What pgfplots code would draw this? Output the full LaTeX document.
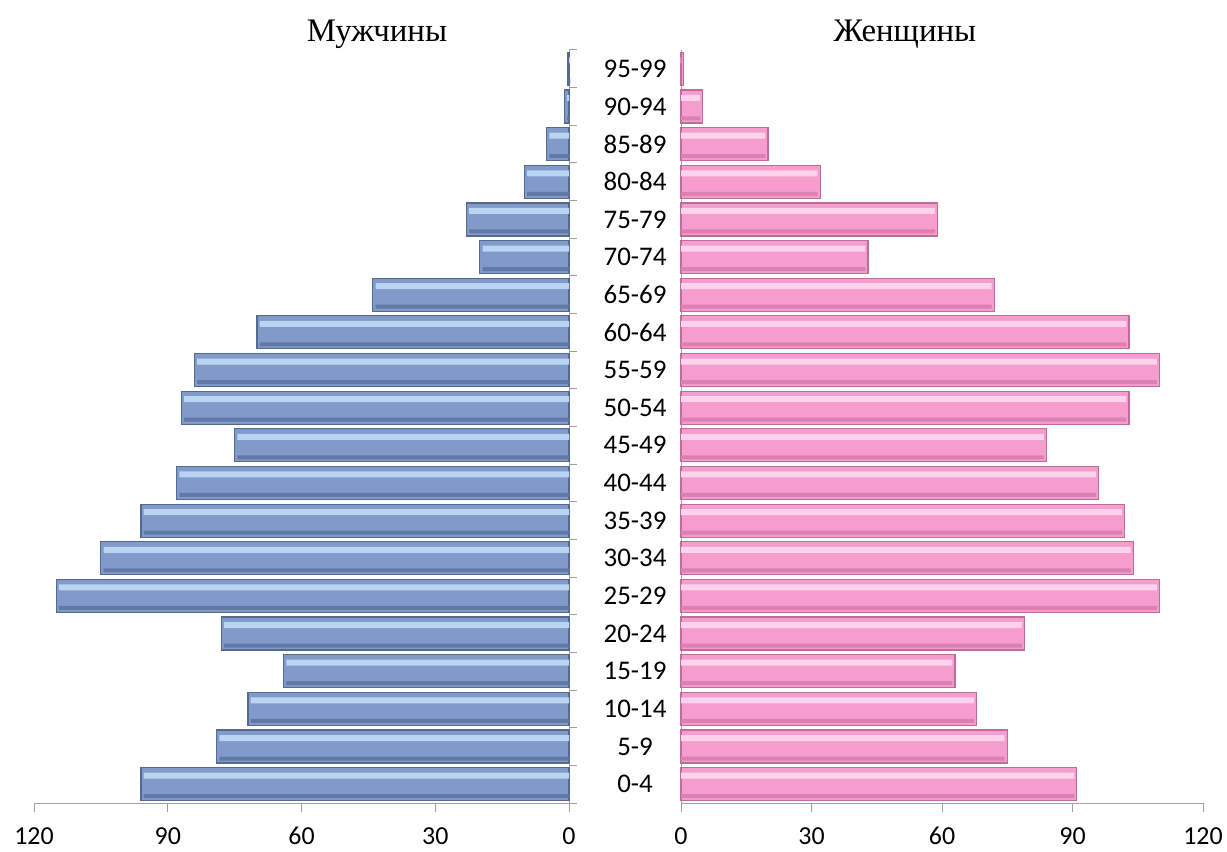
\documentclass[border=0pt]{standalone}
\usepackage{pgfplots}
\pgfplotsset{compat=1.18}
\usepackage{pgfplotstable}
\usepackage{fontspec}
\setmainfont{Carlito}
\newfontfamily\titlefont{Liberation Serif}

\definecolor{blueEdge}{HTML}{56698F}
\definecolor{blueTop}{HTML}{BAD5F2}
\definecolor{blueMid}{HTML}{809ACA}
\definecolor{blueBot}{HTML}{6279A6}
\definecolor{pinkEdge}{HTML}{C06C9A}
\definecolor{pinkTop}{HTML}{FDD2EC}
\definecolor{pinkMid}{HTML}{F59DCC}
\definecolor{pinkBot}{HTML}{DC80B2}
\definecolor{axisgray}{HTML}{A0A0A0}

\pgfplotstableread{
age men women
0-4 96 91
5-9 79 75
10-14 72 68
15-19 64 63
20-24 78 79
25-29 115 110
30-34 105 104
35-39 96 102
40-44 88 96
45-49 75 84
50-54 87 103
55-59 84 110
60-64 70 103
65-69 44 72
70-74 20 43
75-79 23 59
80-84 10 32
85-89 5 20
90-94 1 5
95-99 0.3 0.5
}\datatable

\pgfplotsset{
  pyr/.style={
    scale only axis,
    anchor=south west,
    height=753bp,
    ymin=-0.5, ymax=19.5,
    axis x line*=bottom,
    x axis line style={-, draw=axisgray, line width=1bp},
    y axis line style={-, draw=axisgray, line width=1bp},
    tick align=outside,
    major tick length=9bp,
    minor tick length=8bp,
    tick style={draw=axisgray, line width=1bp},
    minor ytick={-0.5,0.5,...,19.5},
    every major y tick/.append style={draw=none},
    tick label style={font=\fontsize{26}{31}\selectfont},
    /pgf/number format/assume math mode=true,
    xticklabel style={inner sep=0bp, yshift=-15bp},
    clip=false,
  }
}

\begin{document}
\begin{tikzpicture}
\path[use as bounding box] (0,0) rectangle (1227bp,852bp);

\begin{axis}[pyr,
  at={(34bp,49bp)}, width=535bp,
  xmin=-120, xmax=0,
  axis y line*=right,
  xtick={-120,-90,-60,-30,0}, xticklabels={120,90,60,30,0},
  ytick={0,...,19},
  yticklabels from table={\datatable}{age},
  yticklabel style={anchor=center, xshift=57bp, font=\fontsize{27}{32}\selectfont},
]
\addplot[xbar, bar width=33bp, draw=blueEdge, line width=1.2bp, fill=blueMid]
  table[x expr=-\thisrow{men}, y expr=\coordindex]{\datatable};
\addplot[xbar, bar width=6bp, bar shift=8.5bp, draw=none, fill=blueTop]
  table[x expr=-\thisrow{men}+0.6, y expr=\coordindex]{\datatable};
\addplot[xbar, bar width=4bp, bar shift=-12bp, draw=none, fill=blueBot]
  table[x expr=-\thisrow{men}+0.6, y expr=\coordindex]{\datatable};
\end{axis}

\begin{axis}[pyr,
  at={(681bp,49bp)}, width=522bp,
  xmin=0, xmax=120,
  axis y line*=left,
  xtick={0,30,60,90,120},
  ytick=\empty,
]
\addplot[xbar, bar width=33bp, draw=pinkEdge, line width=1.2bp, fill=pinkMid]
  table[x expr=\thisrow{women}, y expr=\coordindex]{\datatable};
\addplot[xbar, bar width=6bp, bar shift=8.5bp, draw=none, fill=pinkTop]
  table[x expr=\thisrow{women}-0.6, y expr=\coordindex]{\datatable};
\addplot[xbar, bar width=4bp, bar shift=-12bp, draw=none, fill=pinkBot]
  table[x expr=\thisrow{women}-0.6, y expr=\coordindex]{\datatable};
\end{axis}

\node[font=\titlefont\fontsize{33}{40}\selectfont] at (377bp,818bp) {Мужчины};
\node[font=\titlefont\fontsize{33}{40}\selectfont] at (905bp,818bp) {Женщины};
\end{tikzpicture}
\end{document}
